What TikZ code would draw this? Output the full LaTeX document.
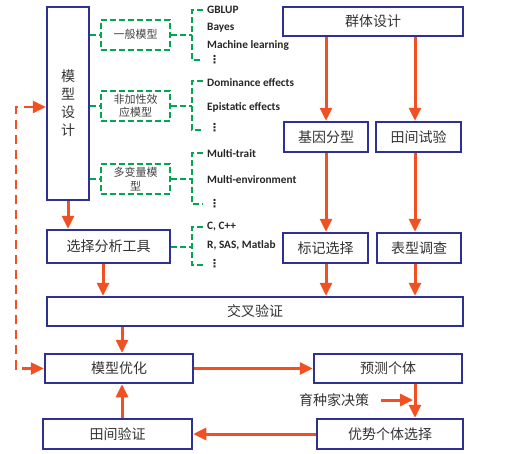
\documentclass[tikz,border=0pt]{standalone}
\usepackage{fontspec}
\setmainfont{Carlito}
\newfontfamily\cjk{Noto Sans CJK SC}
\newfontfamily\sym{DejaVu Sans}
\usetikzlibrary{arrows.meta}
\definecolor{boxblue}{RGB}{46,49,146}
\definecolor{dgreen}{RGB}{0,166,81}
\definecolor{arrorange}{RGB}{241,80,35}
\tikzset {>={Triangle[length=13pt,width=12pt]}}

\begin{document}
\begin{tikzpicture}[x=1pt,y=-1pt,
  box/.style={draw=boxblue,line width=2.5pt,fill=white,inner sep=0pt,align=center,
    font=\cjk\fontsize{14}{18}\selectfont,text=black!80},
  gbox/.style={draw=dgreen,line width=2pt,dash pattern=on 6pt off 3pt,inner sep=0pt,
    align=center,font=\cjk\fontsize{11}{13.5}\selectfont,text=black!75,
    minimum width=69pt,minimum height=30pt},
  gline/.style={dgreen,line width=2pt,dash pattern=on 6pt off 3pt},
  item/.style={anchor=west,inner sep=0pt,font=\bfseries\fontsize{11.3}{12}\selectfont,text=black!85},
  dotsitem/.style={anchor=west,inner sep=0pt,font=\sym\bfseries\fontsize{11}{12}\selectfont,text=black!85},
  flow/.style={->,arrorange,line width=3pt}]
\useasboundingbox (0,0) rectangle (509,453);

% columns for the vertical arrows
\coordinate (midcol) at (326,0);
\coordinate (rightcol) at (415,0);
\coordinate (toolcol) at (103,0);
\coordinate (optcol) at (122,0);

% blue boxes
\node[box,minimum width=42pt,minimum height=193pt] (design) at (68,103.5) {模\\型\\设\\计};
\node[box,minimum width=180pt,minimum height=29pt] (popdesign) at (373,21.5) {群体设计};
\node[box,minimum width=84pt,minimum height=30pt] (genotype) at (326,137) {基因分型};
\node[box,minimum width=85pt,minimum height=30pt] (fieldtrial) at (418.5,137) {田间试验};
\node[box,minimum width=123pt,minimum height=33pt] (tools) at (108.5,246.5) {选择分析工具};
\node[box,minimum width=85pt,minimum height=30pt] (marker) at (325.5,248) {标记选择};
\node[box,minimum width=84pt,minimum height=30pt] (pheno) at (419,248) {表型调查};
\node[box,minimum width=416pt,minimum height=29pt] (cv) at (255,311.5) {交叉验证};
\node[box,minimum width=148pt,minimum height=29pt] (opt) at (119,368.5) {模型优化};
\node[box,minimum width=148pt,minimum height=29pt] (predict) at (388,368.5) {预测个体};
\node[box,minimum width=146pt,minimum height=30pt] (elite) at (390,434) {优势个体选择};
\node[box,minimum width=149pt,minimum height=30pt] (fieldval) at (117.5,434) {田间验证};
\node[font=\cjk\fontsize{14}{18}\selectfont,text=black!80,inner sep=0pt] (decision) at (334,400) {育种家决策};

% green model boxes
\node[gbox] (general) at (135.5,34.5) {一般模型};
\node[gbox] (nonadd) at (135.5,106) {非加性效\\应模型};
\node[gbox] (multi) at (135.5,179) {多变量模\\型};

% lists
\node[item] (gblup) at (207,10) {GBLUP};
\node[item] (bayes) at (207,28) {Bayes};
\node[item] (ml) at (207,45) {Machine learning};
\node[dotsitem] (dots1) at (209,60) {⋮};
\node[item] (dom) at (207,83) {Dominance effects};
\node[item] (epi) at (207,107) {Epistatic effects};
\node[dotsitem] (dots2) at (209,128) {⋮};
\node[item] (mtrait) at (207,154) {Multi-trait};
\node[item] (menv) at (207,180) {Multi-environment};
\node[dotsitem] (dots3) at (209,204) {⋮};
\node[item] (cpp) at (207,227) {C, C++};
\node[item] (rsas) at (207,245) {R, SAS, Matlab};
\node[dotsitem] (dots4) at (209,264) {⋮};

% green connectors and brackets
\draw[gline] (design.east |- general) -- (general.west);
\draw[gline] (design.east |- nonadd) -- (nonadd.west);
\draw[gline] (design.east |- multi) -- (multi.west);
\draw[gline] (general.east) -- (192,34.5);
\draw[gline] (nonadd.east) -- (192,106);
\draw[gline] (multi.east) -- (192,179);
\draw[gline] (tools.east) -- (192,246.5);
\draw[gline] (203,10) -- (192,10) -- (192,60) -- (203,60);
\draw[gline] (203,81) -- (192,81) -- (192,130) -- (203,130);
\draw[gline] (203,153) -- (192,153) -- (192,204) -- (203,204);
\draw[gline] (203,227) -- (192,227) -- (192,265) -- (203,265);

% orange arrows
\draw[flow] (popdesign.south -| midcol) -- (genotype.north -| midcol);
\draw[flow] (popdesign.south -| rightcol) -- (fieldtrial.north -| rightcol);
\draw[flow] (genotype.south -| midcol) -- (marker.north -| midcol);
\draw[flow] (fieldtrial.south -| rightcol) -- (pheno.north -| rightcol);
\draw[flow] (marker.south -| midcol) -- (cv.north -| midcol);
\draw[flow] (pheno.south -| rightcol) -- (cv.north -| rightcol);
\draw[flow] (design.south) -- (tools.north -| design);
\draw[flow] (tools.south -| toolcol) -- (cv.north -| toolcol);
\draw[flow] (cv.south -| optcol) -- (opt.north -| optcol);
\draw[flow] (opt.east) -- (predict.west);
\draw[flow] (predict.south -| rightcol) -- (elite.north -| rightcol);
\draw[flow,shorten <=12pt] (decision.east) -- ([xshift=-2pt]decision.east -| rightcol);
\draw[flow] (elite.west) -- (fieldval.east);
\draw[flow] (fieldval.north -| optcol) -- (opt.south -| optcol);
\draw[flow,<->,line width=2.5pt,dash pattern=on 9pt off 6pt]
  (opt.west) -- ++(-28,0) |- ([yshift=-3.5pt]design.west);
\end{tikzpicture}
\end{document}
